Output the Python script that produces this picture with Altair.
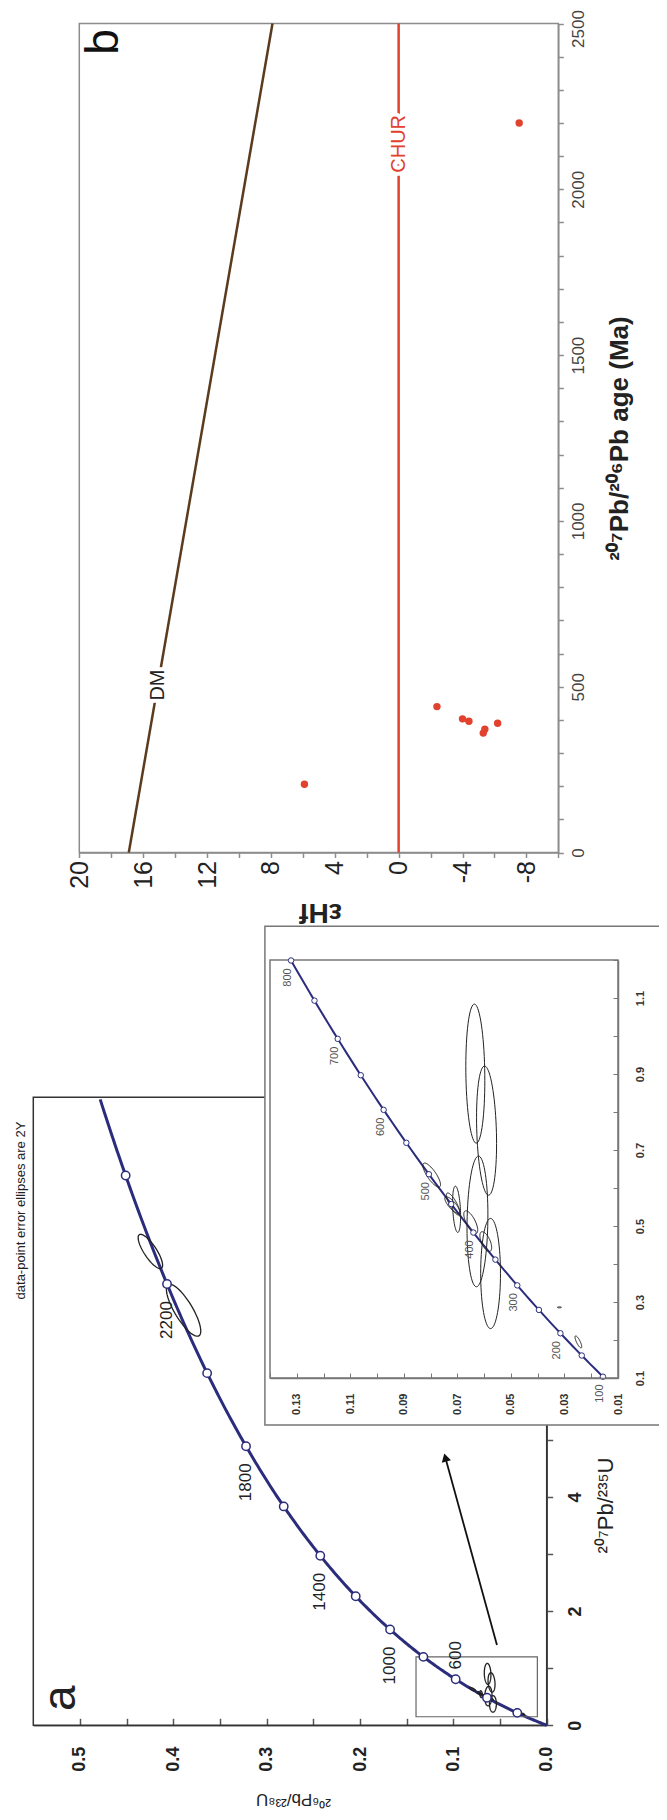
import math
import pandas as pd
import altair as alt

FONT = "Liberation Sans"
NAVY = "#2b2d7c"
RED = "#e2412d"
BROWN = "#5b3b1e"

# ---------------- panel b data : eHf vs 207Pb/206Pb age ----------------
hf_age = [206, 440, 403, 396, 372, 360, 390, 2200]
hf_ehf = [5.9, -2.4, -4.0, -4.4, -5.4, -5.3, -6.2, -7.55]
dm_age = [0, 2500]
dm_ehf = [16.9, 7.9]
chur_age = [0, 2500]
chur_ehf = [0, 0]

# ---------------- U-Pb data-point error ellipses ----------------
# centre (206Pb/238U, 207Pb/235U), half-extents, error correlation
ell_r68 = [0.4246, 0.389, 0.0633, 0.0591, 0.0625, 0.0576, 0.0796, 0.0719, 0.0703, 0.0716, 0.0650, 0.0594, 0.0248, 0.0319]
ell_r75 = [8.30, 7.27, 0.901, 0.751, 0.512, 0.375, 0.634, 0.555, 0.544, 0.558, 0.510, 0.459, 0.195, 0.286]
ell_s68 = [0.0131, 0.0184, 0.00355, 0.00374, 0.0039, 0.0037, 0.0033, 0.0028, 0.0015, 0.0025, 0.0026, 0.0022, 0.00125, 0.00075]
ell_s75 = [0.30, 0.455, 0.183, 0.170, 0.172, 0.145, 0.0316, 0.022, 0.061, 0.029, 0.030, 0.026, 0.0158, 0.0013]
ell_rho = [0.8, 0.8, 0.1, 0.2, -0.1, 0.0, 0.8, 0.8, 0.3, 0.8, 0.7, 0.6, 0.8, 0.0]

# concordia (decay constants per Ma)
LAMBDA238 = 1.55125e-4
LAMBDA235 = 9.8485e-4
conc_a_ages = list(range(0, 2521, 10))
conc_i_ages = list(range(100, 801, 10))
mark_a_ages = list(range(200, 2401, 200))
mark_i_ages = list(range(100, 801, 50))
label_a_ages = [1000, 1400, 1800, 2200]
label_a_low = [600]
label_i_ages = list(range(100, 801, 100))

# ---------------- layout (chart pixel coordinates) ----------------
W, H = 651, 1804
B_X_RANGE = [550.3, 71.3]     # eHf -10 .. 20
B_Y_RANGE = [844.5, 15.5]     # age 0 .. 2500
A_X_RANGE = [538.7, 25.3]     # 206/238 0 .. 0.55
A_Y_RANGE = [1717.3, 1089.3]  # 207/235 0 .. 11
I_X_RANGE = [610.0, 262.0]    # 206/238 0.01 .. 0.14
I_Y_RANGE = [1370.0, 952.0]   # 207/235 0.1 .. 1.2


def sc(domain, rng):
    return alt.Scale(domain=domain, range=rng, nice=False, zero=False)


BXS = sc([-10, 20], B_X_RANGE)
BYS = sc([0, 2500], B_Y_RANGE)
AXS = sc([0, 0.55], A_X_RANGE)
AYS = sc([0, 11], A_Y_RANGE)
IXS = sc([0.01, 0.14], I_X_RANGE)
IYS = sc([0.1, 1.2], I_Y_RANGE)


def r68(t):
    return math.exp(LAMBDA238 * t) - 1


def r75(t):
    return math.exp(LAMBDA235 * t) - 1


def conc_df(ages):
    return pd.DataFrame({"t": ages, "x": [r68(t) for t in ages], "y": [r75(t) for t in ages],
                         "label": [str(t) for t in ages]})


def ell_df(only_small=False):
    rows = []
    for i, (cx, cy, sx, sy, r) in enumerate(zip(ell_r68, ell_r75, ell_s68, ell_s75, ell_rho)):
        if only_small and cx > 0.14:
            continue
        for k in range(73):
            th = 2 * math.pi * k / 72
            rows.append({"id": i, "k": k, "x": cx + sx * math.cos(th),
                         "y": cy + sy * (r * math.cos(th) + math.sqrt(1 - r * r) * math.sin(th))})
    return pd.DataFrame(rows)


def XY(xs, ys, xaxis=None, yaxis=None, xf="x", yf="y"):
    return dict(x=alt.X(f"{xf}:Q", scale=xs, axis=xaxis), y=alt.Y(f"{yf}:Q", scale=ys, axis=yaxis))


common = dict(grid=False, labelFont=FONT, titleFont=FONT, labelOverlap=False, labelFlush=False)

# ---------------- axes ----------------
axis_b_x = alt.Axis(orient="bottom", offset=B_Y_RANGE[0] - H, values=list(range(-10, 21, 2)),
                    labelExpr="datum.value % 4 == 0 ? '' + datum.value : ''",
                    labelAngle=270, labelAlign="right", labelBaseline="middle", labelFontSize=25,
                    labelColor="#222", labelPadding=3, tickSize=5, tickColor="#8c8c8c", tickWidth=1.5,
                    domainColor="#8c8c8c", domainWidth=1.5, title="εHf", titleFontSize=28,
                    titleFontWeight="bold", titleColor="#222", titleAngle=180, titleAlign="center",
                    titleBaseline="middle", titleX=312, titleY=58.5, **common)
axis_b_y = alt.Axis(orient="right", offset=B_X_RANGE[0] - W, values=list(range(0, 2501, 100)),
                    labelExpr="datum.value % 500 == 0 ? '' + datum.value : ''",
                    labelOffset={"condition": {"test": "datum.value == 2500", "value": 5}, "value": 0},
                    labelAngle=270, labelAlign="center", labelBaseline="top", labelFontSize=17,
                    labelColor="#444", labelPadding=7, tickSize=5, tickColor="#8c8c8c", tickWidth=1.5,
                    domainColor="#8c8c8c", domainWidth=1.5, title="²⁰⁷Pb/²⁰⁶Pb age (Ma)",
                    titleFontSize=26, titleFontWeight="bold", titleColor="#222", titleAngle=270,
                    titleAlign="center", titleBaseline="middle", titleX=61, titleY=430, **common)

axis_a_x = alt.Axis(orient="bottom", offset=A_Y_RANGE[0] - H, values=[0, 0.1, 0.2, 0.3, 0.4, 0.5],
                    format=".1f", ticks=False, labelAngle=270, labelAlign="right", labelBaseline="middle",
                    labelFontSize=18, labelFontWeight="bold", labelColor="#222", labelPadding=21,
                    domainColor="#555", domainWidth=1.5, title="²⁰⁶Pb/²³⁸U", titleFontSize=17,
                    titleFontWeight="normal", titleColor="#222", titleAngle=180, titleAlign="center",
                    titleBaseline="middle", titleX=285, titleY=73, **common)
axis_a_y = alt.Axis(orient="right", offset=A_X_RANGE[0] - W, values=list(range(0, 11)),
                    labelExpr="datum.value % 2 == 0 ? '' + datum.value : ''",
                    labelAngle=270, labelAlign="center", labelBaseline="top", labelFontSize=18,
                    labelFontWeight="bold", labelColor="#222", labelPadding=14, tickSize=6,
                    tickColor="#555", tickWidth=1.5, domainColor="#555", domainWidth=1.5,
                    title="²⁰⁷Pb/²³⁵U", titleFontSize=22, titleFontWeight="normal", titleColor="#222",
                    titleAngle=270, titleAlign="center", titleBaseline="middle", titleX=59, titleY=1497,
                    **common)
axis_a_tick = alt.Axis(orient="top", offset=-A_Y_RANGE[0], values=[round(0.05 * i, 2) for i in range(11)],
                       labels=False, domain=False, tickSize=7, tickColor="#555", tickWidth=1.5,
                       title=None, grid=False)

axis_i_x = alt.Axis(orient="bottom", offset=I_Y_RANGE[0] - H, values=[0.01, 0.03, 0.05, 0.07, 0.09, 0.11, 0.13],
                    format=".2f", ticks=False, labelAngle=270, labelAlign="right", labelBaseline="middle",
                    labelFontSize=11, labelFontWeight="bold", labelColor="#333", labelPadding=15,
                    domainColor="#777", domainWidth=1.5, title=None, zindex=1, **common)
axis_i_y = alt.Axis(orient="right", offset=I_X_RANGE[0] - W, values=[0.1, 0.3, 0.5, 0.7, 0.9, 1.1],
                    format=".1f", ticks=False, labelAngle=270, labelAlign="center", labelBaseline="top",
                    labelFontSize=11, labelFontWeight="bold", labelColor="#333", labelPadding=16,
                    domainColor="#777", domainWidth=1.5, title=None, zindex=1, **common)
axis_i_xt = alt.Axis(orient="top", offset=-I_Y_RANGE[0], values=[round(0.01 * i, 2) for i in range(1, 15)],
                     labels=False, domain=False, tickSize=5, tickColor="#777", tickWidth=1,
                     title=None, grid=False, zindex=1)
axis_i_yt = alt.Axis(orient="left", offset=-I_X_RANGE[0], values=[round(0.1 * i, 1) for i in range(1, 13)],
                     labels=False, domain=False, tickSize=5, tickColor="#777", tickWidth=1,
                     title=None, grid=False, zindex=1)

layers = []

# ================= panel b =================
frame_b = pd.DataFrame({"x": [20], "x2": [-10], "y": [0], "y2": [2500]})
layers.append(alt.Chart(frame_b).mark_rect(fill="white", fillOpacity=0, stroke="#8c8c8c", strokeWidth=1.5)
              .encode(**XY(BXS, BYS, axis_b_x, axis_b_y), x2="x2:Q", y2="y2:Q"))

chur_df = pd.DataFrame({"x": chur_ehf, "y": chur_age, "k": [0, 1]})
dm_df = pd.DataFrame({"x": dm_ehf, "y": dm_age, "k": [0, 1]})
layers.append(alt.Chart(chur_df).mark_line(color=RED, strokeWidth=2.5).encode(**XY(BXS, BYS), order="k:Q"))
layers.append(alt.Chart(dm_df).mark_line(color=BROWN, strokeWidth=2.5).encode(**XY(BXS, BYS), order="k:Q"))

lab_b = pd.DataFrame({"x": [15.1, 0.0], "y": [505, 2137], "label": ["DM", "CHUR"], "c": ["#222", RED]})
layers.append(alt.Chart(lab_b).mark_text(angle=270, font=FONT, fontSize=20, color="white", stroke="white",
                                         strokeWidth=8).encode(**XY(BXS, BYS), text="label:N"))
layers.append(alt.Chart(lab_b).mark_text(angle=270, font=FONT, fontSize=20)
              .encode(**XY(BXS, BYS), text="label:N", color=alt.Color("c:N", scale=None)))

dots_df = pd.DataFrame({"x": hf_ehf, "y": hf_age})
layers.append(alt.Chart(dots_df).mark_circle(size=55, color=RED, opacity=1).encode(**XY(BXS, BYS)))

b_df = pd.DataFrame({"x": [18.45], "y": [2444], "label": ["b"]})
layers.append(alt.Chart(b_df).mark_text(angle=270, font=FONT, fontSize=46, color="#111")
              .encode(**XY(BXS, BYS), text="label:N"))

# ================= panel a =================
frame_a = pd.DataFrame({"x": [0.55], "x2": [0], "y": [0], "y2": [11]})
layers.append(alt.Chart(frame_a).mark_rect(fill="white", fillOpacity=0, stroke="#333", strokeWidth=1.5)
              .encode(**XY(AXS, AYS, axis_a_x, axis_a_y), x2="x2:Q", y2="y2:Q"))

ca = conc_df(conc_a_ages)
layers.append(alt.Chart(ca).mark_line(color=NAVY, strokeWidth=3)
              .encode(**XY(AXS, AYS, axis_a_tick, None), order="t:Q"))

box_df = pd.DataFrame({"x": [0.14], "x2": [0.01], "y": [0.15], "y2": [1.2]})
layers.append(alt.Chart(box_df).mark_rect(fill="white", fillOpacity=0, stroke="#666", strokeWidth=1.2)
              .encode(**XY(AXS, AYS), x2="x2:Q", y2="y2:Q"))

layers.append(alt.Chart(ell_df()).mark_line(color="#222", strokeWidth=1.3)
              .encode(**XY(AXS, AYS), detail="id:N", order="k:Q"))

layers.append(alt.Chart(conc_df(mark_a_ages)).mark_point(shape="circle", filled=True, fill="white", stroke=NAVY,
                                                          strokeWidth=1.5, size=70, opacity=1)
              .encode(**XY(AXS, AYS)))

arrow_df = pd.DataFrame({"x": [0.0533, 0.1086], "y": [1.406, 4.69], "k": [0, 1]})
layers.append(alt.Chart(arrow_df).mark_line(color="#111", strokeWidth=1.8).encode(**XY(AXS, AYS), order="k:Q"))
layers.append(alt.Chart(arrow_df.iloc[[1]]).mark_point(shape="triangle-up", filled=True, color="#111", size=90,
                                                      angle=345, opacity=1).encode(**XY(AXS, AYS)))

layers.append(alt.Chart(conc_df(label_a_ages)).mark_text(angle=270, font=FONT, fontSize=17, color="#222", dx=-36)
              .encode(**XY(AXS, AYS), text="label:N"))
layers.append(alt.Chart(conc_df(label_a_low)).mark_text(angle=270, font=FONT, fontSize=17, color="#222", dx=24)
              .encode(**XY(AXS, AYS), text="label:N"))

a_txt = pd.DataFrame({"x": [0.5198, 0.5627], "y": [0.473, 9.016], "label": ["a", "data-point error ellipses are 2Y"],
                      "s": [46, 13]})
layers.append(alt.Chart(a_txt).mark_text(angle=270, font=FONT, color="#222")
              .encode(**XY(AXS, AYS), text="label:N", size=alt.Size("s:Q", scale=None)))

# ================= inset =================
outer_df = pd.DataFrame({"x": [0.1419], "x2": [-0.04], "y": [-0.0237], "y2": [1.289]})
layers.append(alt.Chart(outer_df).mark_rect(fill="white", stroke="#777", strokeWidth=1.5)
              .encode(**XY(IXS, IYS), x2="x2:Q", y2="y2:Q"))

frame_i = pd.DataFrame({"x": [0.14], "x2": [0.01], "y": [0.1], "y2": [1.2]})
layers.append(alt.Chart(frame_i).mark_rect(fill="white", fillOpacity=0, stroke="#777", strokeWidth=1.5)
              .encode(**XY(IXS, IYS, axis_i_x, axis_i_y), x2="x2:Q", y2="y2:Q"))

layers.append(alt.Chart(conc_df(conc_i_ages)).mark_line(color=NAVY, strokeWidth=2)
              .encode(**XY(IXS, IYS, axis_i_xt, axis_i_yt), order="t:Q"))

layers.append(alt.Chart(ell_df(only_small=True)).mark_line(color="#222", strokeWidth=1)
              .encode(**XY(IXS, IYS), detail="id:N", order="k:Q"))

layers.append(alt.Chart(conc_df(mark_i_ages)).mark_point(shape="circle", filled=True, fill="white", stroke=NAVY,
                                                          strokeWidth=1, size=30, opacity=1)
              .encode(**XY(IXS, IYS)))

layers.append(alt.Chart(conc_df(label_i_ages)).mark_text(angle=270, font=FONT, fontSize=11, color="#555",
                                                         dx=-17, dy=-3)
              .encode(**XY(IXS, IYS), text="label:N"))

chart = (alt.layer(*layers)
         .resolve_scale(x="independent", y="independent")
         .properties(width=W, height=H, autosize=alt.AutoSizeParams(type="none"), padding=0)
         .configure_view(stroke=None))

chart.save("out.html", embed_options={"renderer": "svg", "actions": False})
